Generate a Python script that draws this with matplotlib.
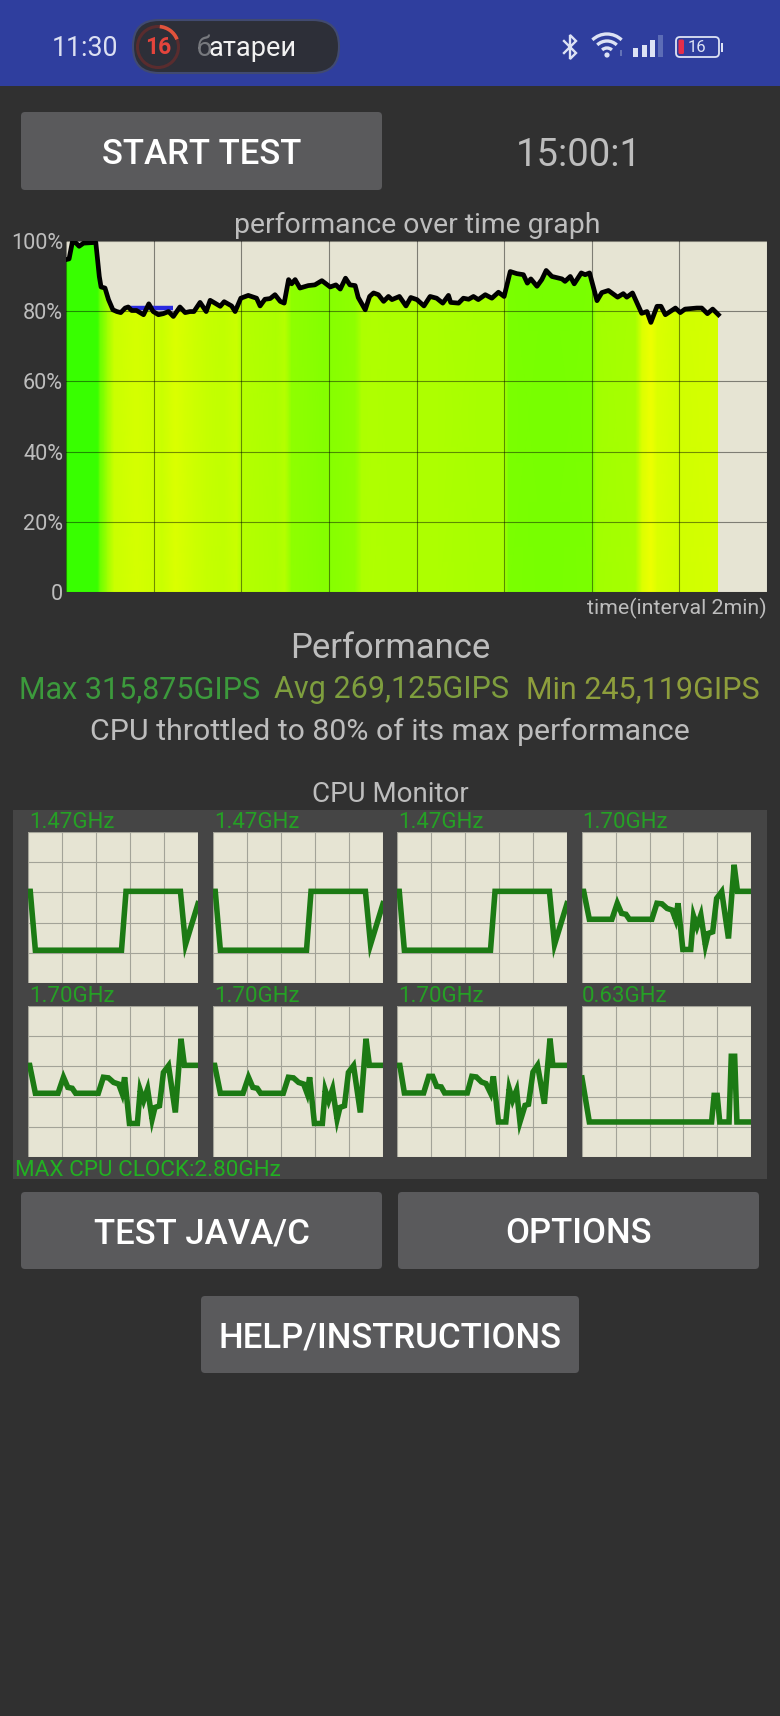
import numpy as np
import matplotlib
matplotlib.use("Agg")
import matplotlib.pyplot as plt
from matplotlib.colors import LinearSegmentedColormap, Normalize
from matplotlib.patches import FancyBboxPatch, Rectangle, Polygon, Arc, Circle

plt.rcParams["font.family"] = ["Roboto", "DejaVu Sans"]

W, H = 780, 1716

# performance over time (minutes, % of max)
perf_t = [0, .07, .15, .23, .30, .40, .68, .76, .80, .89, .97, 1.07, 1.16, 1.25, 1.35, 1.42, 1.50, 1.61, 1.77, 1.89,
          1.99, 2.11, 2.22, 2.34, 2.45, 2.60, 2.72, 2.83, 2.92, 3.06, 3.20, 3.29, 3.40, 3.52, 3.61, 3.78, 3.86, 3.99,
          4.16, 4.35, 4.43, 4.54, 4.66, 4.77, 4.89, 4.98, 5.08, 5.15, 5.23, 5.34, 5.53, 5.68, 5.84, 6.03, 6.16, 6.26,
          6.38, 6.48, 6.60, 6.67, 6.83, 6.93, 7.02, 7.13, 7.25, 7.36, 7.44, 7.61, 7.76, 7.87, 8.01, 8.17, 8.31, 8.46,
          8.60, 8.73, 8.78, 8.96, 9.07, 9.19, 9.30, 9.41, 9.57, 9.72, 9.87, 10.00, 10.14, 10.29, 10.44, 10.53, 10.61,
          10.75, 10.86, 10.96, 11.09, 11.32, 11.39, 11.51, 11.60, 11.76, 11.85, 11.95, 12.12, 12.23, 12.38, 12.59,
          12.72, 12.80, 12.93, 13.14, 13.26, 13.35, 13.49, 13.58, 13.68, 13.91, 14.02, 14.13, 14.40, 14.51, 14.64,
          14.76, 14.89]
perf_pct = [94.7, 94.9, 100, 99.4, 98.5, 99.4, 99.6, 89.9, 86.9, 86.6, 83.3, 80.4, 79.9, 79.6, 80.9, 81.2, 80.2, 80.2,
            79.0, 82.1, 79.9, 79.0, 79.3, 79.9, 78.5, 81.2, 79.6, 79.9, 79.9, 82.5, 79.9, 83.1, 82.3, 81.4, 82.7, 81.5,
            79.9, 83.7, 84.5, 83.7, 81.5, 83.4, 83.6, 84.7, 82.8, 82.3, 89.0, 87.8, 89.0, 86.6, 87.3, 87.5, 88.7, 86.9,
            87.5, 86.3, 89.4, 87.5, 87.3, 83.9, 80.4, 84.2, 85.2, 84.7, 82.8, 84.2, 83.3, 84.2, 81.5, 83.9, 83.3, 81.5,
            84.2, 83.7, 82.3, 84.5, 82.5, 82.3, 83.7, 83.4, 84.2, 83.3, 84.7, 83.7, 85.4, 84.2, 91.3, 90.7, 90.4, 88.0,
            89.2, 87.1, 89.0, 91.6, 89.9, 89.2, 88.5, 89.9, 87.8, 90.9, 90.4, 90.9, 83.0, 85.3, 85.9, 84.0, 85.0, 84.0,
            85.2, 79.4, 79.9, 76.8, 81.4, 81.4, 79.0, 80.9, 79.6, 80.6, 80.9, 80.9, 79.3, 80.6, 79.0]
# colour level of the bands under the line, they are calmer than the line itself
band_t = [0, .72, .78, .95, 1.1, 1.6, 2.0, 2.2, 2.5, 2.9, 3.2, 3.6, 3.9, 4.0, 4.8, 5.0, 5.15, 5.5, 5.9, 6.3, 6.6,
          6.75, 7.0, 7.5, 8.5, 9.5, 10.0, 10.1, 11, 12.0, 12.1, 13.0, 13.15, 13.35, 13.5, 14, 14.89]
band_level = [99, 99, 92, 85, 80.5, 79.5, 80, 80.5, 79, 80, 81, 81.5, 80.5, 83, 84, 83, 87, 87.5, 88, 87.5, 87,
              84, 83.5, 84, 84, 84.5, 84.5, 90, 90.5, 90, 85, 84.5, 79, 77.5, 79, 79.8, 79.5]
# short blue stretch under the black line
blue_t = [1.42, 2.44]
blue_pct = [80.9, 80.9]

y_ticks = [0, 20, 40, 60, 80, 100]
y_labels = ["0", "20%", "40%", "60%", "80%", "100%"]

# cpu monitor, sample index and % of 2.80GHz
little_x = [0, 0.4, 1.3, 16.5, 17.3, 26.9, 27.8, 30]
little_y = [60.7, 60.7, 21.7, 21.7, 60.7, 60.7, 25.5, 52.5]
big_x = [0, 0.3, 1.3, 5.3, 6.26, 7.03, 7.8, 8.4, 12.4, 13.3, 14.2, 15.1, 16, 16.6, 17.05, 17.9, 19.3, 19.8, 20.4,
         21.1, 21.9, 22.4, 23.2, 23.9, 24.8, 26, 27, 27.6, 30]
big_y = [60.7, 60.7, 42.2, 42.2, 52.8, 46.1, 45.5, 42.2, 42.2, 52.8, 52.4, 49.4, 48.3, 42.2, 52.8, 22.2, 22.2, 44.3,
         37.3, 45, 25, 32.8, 33.9, 56, 60.5, 29.5, 78.3, 60.7, 60.7]
big2_x = [0, .5, 1.3, 4.7, 5.6, 6.3, 7, 7.8, 8.4, 12.4, 13.2, 14, 14.9, 15.7, 16.5, 17, 17.9, 19.2, 19.8, 20.4, 21.1,
          21.7, 22.6, 23.2, 24, 24.8, 26, 27, 27.5, 30]
big2_y = [60.7, 60.7, 42.4, 42.4, 53.4, 53.4, 46.8, 46.4, 42.4, 42.4, 53.4, 53, 49.7, 48.6, 42.4, 53.4, 23.2, 23.2,
          45.3, 37.5, 44.2, 23.2, 34.2, 34.9, 56.3, 60.7, 35.3, 78.4, 60.7, 60.7]
last_x = [0, 1.3, 23, 23.45, 24, 24.45, 26.1, 26.5, 27.1, 27.5, 30]
last_y = [52.3, 23.2, 23.2, 40.8, 40.8, 23.2, 23.2, 66.7, 66.7, 23.2, 23.2]

cpu_labels = ["1.47GHz", "1.47GHz", "1.47GHz", "1.70GHz", "1.70GHz", "1.70GHz", "1.70GHz", "0.63GHz"]
cpu_x = [little_x, little_x, little_x, big_x, big_x, big_x, big2_x, last_x]
cpu_y = [little_y, little_y, little_y, big_y, big_y, big_y, big2_y, last_y]

BG = "#303030"
BEIGE = "#E6E4D3"
GREY_TXT = "#BDBDBD"
ICON = "#DDE2F4"

fig = plt.figure(figsize=(W / 100, H / 100), dpi=100, facecolor=BG)

# overlay in pixels for the app chrome
ui = fig.add_axes([0, 0, 1, 1], zorder=0)
ui.set_xlim(0, W)
ui.set_ylim(H, 0)
ui.axis("off")


def axes_px(x0, y0, x1, y1, **kw):
    return fig.add_axes([x0 / W, 1 - y1 / H, (x1 - x0) / W, (y1 - y0) / H], **kw)


def button(x0, y0, x1, y1, label):
    ui.add_patch(FancyBboxPatch((x0 + 3, y0 + 3), x1 - x0 - 6, y1 - y0 - 6, boxstyle="round,pad=3,rounding_size=4",
                                fc="#5A5A5C", ec="none"))
    ui.text((x0 + x1) / 2, (y0 + y1) / 2 + 3, label, color="white", fontsize=25, ha="center", va="center",
            fontweight="medium")


# status bar
ui.add_patch(Rectangle((0, 0), W, 86, fc="#2F3E9E", ec="none"))
ui.text(85, 48, "11:30", color="#DCE0F2", fontsize=19.3, ha="center", va="center")
ui.add_patch(FancyBboxPatch((133, 20), 206, 53, boxstyle="round,pad=0,rounding_size=26", fc="#2D2F38", ec="#414A70", lw=1.5))
ui.add_patch(Circle((158, 47), 20.5, fc="none", ec="#5A2C2E", lw=2.2))
ui.add_patch(Arc((158, 47), 41, 41, theta1=-85, theta2=-22, ec="#E0533C", lw=2.6))
ui.text(158, 48, "16", color="#E5443C", fontsize=16.5, fontweight="bold", ha="center", va="center")
ui.text(197, 49, "б", color="#77797E", fontsize=19.5, ha="left", va="center")
ui.text(209, 49, "атареи", color="#F2F2F2", fontsize=19.5, ha="left", va="center")

# bluetooth glyph
ui.plot([564, 576, 570, 570, 576, 564], [41, 53, 59, 35, 41, 53], color=ICON, lw=1.7, solid_joinstyle="miter")
# wifi
for d in [42, 28, 14]:
    ui.add_patch(Arc((607, 55), d, d, theta1=226, theta2=314, ec=ICON, lw=2.4))
ui.add_patch(Circle((607, 55), 2.6, fc=ICON, ec="none"))
ui.plot([621, 621], [51, 55], color="#6675B8", lw=1.4)
# signal bars
for x, top, col in [(635, 48, ICON), (644.5, 45, ICON), (652.5, 40, ICON), (660.5, 35, "#5C6CB6")]:
    ui.add_patch(Rectangle((x - 2.5, top), 5, 57 - top, fc=col, ec="none"))
# battery
ui.add_patch(FancyBboxPatch((676, 37), 43, 20, boxstyle="round,pad=0,rounding_size=4", fc="none", ec=ICON, lw=1.3))
ui.add_patch(FancyBboxPatch((678.5, 39.5), 5.5, 14.5, boxstyle="round,pad=0,rounding_size=1.5", fc="#E52E4A", ec="none"))
ui.add_patch(Rectangle((721, 43), 2, 9, fc=ICON, ec="none"))
ui.text(697, 48, "16", color=ICON, fontsize=12, ha="center", va="center")

button(21, 112, 382, 190, "START TEST")
ui.text(579, 155, "15:00:1", color=GREY_TXT, fontsize=27.5, ha="center", va="center")
ui.text(417, 225, "performance over time graph", color=GREY_TXT, fontsize=20.4, ha="center", va="center")

ui.text(767, 608, "time(interval 2min)", color=GREY_TXT, fontsize=15.4, ha="right", va="center")
ui.text(390, 648, "Performance", color=GREY_TXT, fontsize=24.9, ha="center", va="center")
ui.text(19, 690, "Max 315,875GIPS", color="#3C9A3C", fontsize=22, ha="left", va="center")
ui.text(274, 690, "Avg 269,125GIPS", color="#7E9E3E", fontsize=22, ha="left", va="center")
ui.text(526, 690, "Min 245,119GIPS", color="#8E9E3C", fontsize=22, ha="left", va="center")
ui.text(390, 732, "CPU throttled to 80% of its max performance", color=GREY_TXT, fontsize=21.8, ha="center", va="center")
ui.text(390, 794, "CPU Monitor", color=GREY_TXT, fontsize=20, ha="center", va="center")

# main graph
ax = axes_px(66, 241, 767, 592, zorder=1, facecolor=BEIGE)
perf_cmap = LinearSegmentedColormap.from_list("perf", [
    (0.0, "#F4FF00"), (0.13, "#CEFF00"), (0.30, "#ADFF00"), (0.48, "#85FF00"), (0.61, "#75FF00"), (0.75, "#52FF00"),
    (1.0, "#33FF00")])
norm = Normalize(77, 100)
mesh = ax.pcolormesh(band_t, [0, 100], np.vstack([band_level, band_level]), shading="gouraud", cmap=perf_cmap,
                     norm=norm, zorder=1)
area = Polygon(list(zip(perf_t, perf_pct)) + [(perf_t[-1], 0), (perf_t[0], 0)], closed=True, transform=ax.transData,
               fc="none", ec="none")
ax.add_patch(area)
mesh.set_clip_path(area)
ax.plot(blue_t, blue_pct, color="#2A2AE0", lw=3.2, solid_capstyle="butt", zorder=3)
ax.plot(perf_t, perf_pct, color="black", lw=3.4, zorder=4, solid_joinstyle="round")
ax.set_xlim(0, 16)
ax.set_ylim(0, 100)
ax.set_xticks(range(0, 17, 2))
ax.set_xticklabels([])
ax.set_yticks(y_ticks)
ax.set_yticklabels(y_labels, color=GREY_TXT, fontsize=15.6)
ax.tick_params(length=0, pad=2)
ax.grid(color="black", alpha=0.45, lw=0.8)
ax.set_axisbelow(False)
for s in ax.spines.values():
    s.set_visible(False)

# cpu monitor panel
ui.add_patch(Rectangle((13, 810), 754, 369, fc="#454545", ec="none"))
col_x = [(28, 198), (213, 383), (397, 567), (582, 751)]
row_y = [(832, 983), (1006, 1157)]
label_x = [29, 214, 398, 582]
for i in range(8):
    r, c = i // 4, i % 4
    a = axes_px(col_x[c][0], row_y[r][0], col_x[c][1], row_y[r][1], zorder=1, facecolor=BEIGE)
    a.plot(cpu_x[i], cpu_y[i], color="#1C7A14", lw=4.0, solid_joinstyle="miter", zorder=3)
    a.set_xlim(0, 30)
    a.set_ylim(0, 100)
    a.set_xticks(range(0, 31, 6))
    a.set_yticks(range(0, 101, 20))
    a.set_xticklabels([])
    a.set_yticklabels([])
    a.tick_params(length=0)
    a.grid(color="#A3A398", lw=0.8)
    a.set_axisbelow(True)
    for s in a.spines.values():
        s.set_visible(False)
    ui.text(label_x[c], row_y[r][0] - 9, cpu_labels[i], color="#25A025", fontsize=16, ha="left", va="center")
ui.text(15, 1170, "MAX CPU CLOCK:2.80GHz", color="#22B022", fontsize=16.2, ha="left", va="center")

button(21, 1192, 382, 1269, "TEST JAVA/C")
button(398, 1192, 759, 1269, "OPTIONS")
button(201, 1296, 579, 1373, "HELP/INSTRUCTIONS")

fig.savefig("out.png", dpi=100, facecolor=BG)
